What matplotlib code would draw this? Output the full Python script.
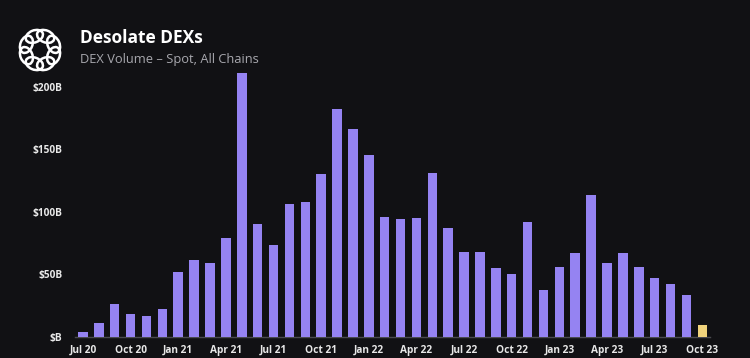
import numpy as np
import matplotlib
matplotlib.use("Agg")
import matplotlib.pyplot as plt
from matplotlib.patches import Ellipse

months = ["Jul 20","Aug 20","Sep 20","Oct 20","Nov 20","Dec 20",
          "Jan 21","Feb 21","Mar 21","Apr 21","May 21","Jun 21",
          "Jul 21","Aug 21","Sep 21","Oct 21","Nov 21","Dec 21",
          "Jan 22","Feb 22","Mar 22","Apr 22","May 22","Jun 22",
          "Jul 22","Aug 22","Sep 22","Oct 22","Nov 22","Dec 22",
          "Jan 23","Feb 23","Mar 23","Apr 23","May 23","Jun 23",
          "Jul 23","Aug 23","Sep 23","Oct 23"]
volume_b = [4, 10.7, 26, 18, 16.5, 22,
            51.5, 61, 59, 79, 211, 90,
            73, 106, 108, 130, 182, 166,
            145, 96, 94, 95, 131, 87,
            67.5, 68, 55, 50, 92, 37,
            56, 67, 113, 59, 67, 56,
            47, 42, 33, 9]
tick_labels = ["Jul 20","Oct 20","Jan 21","Apr 21","Jul 21","Oct 21","Jan 22",
               "Apr 22","Jul 22","Oct 22","Jan 23","Apr 23","Jul 23","Oct 23"]
y_ticks = [0, 50, 100, 150, 200]
y_labels = ["$B", "$50B", "$100B", "$150B", "$200B"]

BG = "#111114"
PURPLE = "#9583f2"
YELLOW = "#f0d37c"

plt.rcParams['font.family'] = ['Open Sans', 'DejaVu Sans']

fig = plt.figure(figsize=(7.5, 3.58), dpi=100, facecolor=BG)
ax = fig.add_axes([0.1, 0.0595, 0.847, 0.7506], facecolor=BG)

x = np.arange(len(months))
colors = [PURPLE] * (len(months) - 1) + [YELLOW]
ax.bar(x, volume_b, width=0.6, color=colors, zorder=3)

ax.set_xlim(-0.5, len(months) - 0.5)
ax.set_ylim(0, 215)
ax.set_yticks(y_ticks)
ax.set_yticklabels(y_labels)
tick_pos = [months.index(t) for t in tick_labels]
ax.set_xticks(tick_pos)
ax.set_xticklabels(tick_labels)
for sp in ["top", "right", "left"]:
    ax.spines[sp].set_visible(False)
ax.spines["bottom"].set_color("#4a4a50")
ax.spines["bottom"].set_linewidth(1.0)
ax.tick_params(axis="both", length=0, colors="#e8e8e8", labelsize=7.3)
ax.tick_params(axis="x", pad=6)
ax.tick_params(axis="y", pad=9)
for lab in ax.get_xticklabels() + ax.get_yticklabels():
    lab.set_fontweight("bold")

fig.text(80/750, 1 - 38/358, "Desolate DEXs", color="white", fontsize=12.5,
         fontweight="bold", va="center", ha="left")
fig.text(80/750, 1 - 59/358, "DEX Volume \u2013 Spot, All Chains", color="#a8a8ae",
         fontsize=9.3, va="center", ha="left")

# logo
lax = fig.add_axes([17/750, 1 - 73/358, 46/750, 46/358], facecolor="none")
lax.set_xlim(-1, 1)
lax.set_ylim(-1, 1)
lax.set_aspect("equal")
lax.axis("off")
n = 8
for k in range(n):
    a = 2 * np.pi * k / n + np.pi / 8
    e = Ellipse((0.64 * np.cos(a), 0.64 * np.sin(a)), 0.78, 0.52,
                angle=np.degrees(a) + 90, fill=False,
                edgecolor="white", linewidth=1.8)
    lax.add_patch(e)

fig.savefig("out.png", dpi=100, facecolor=BG)
